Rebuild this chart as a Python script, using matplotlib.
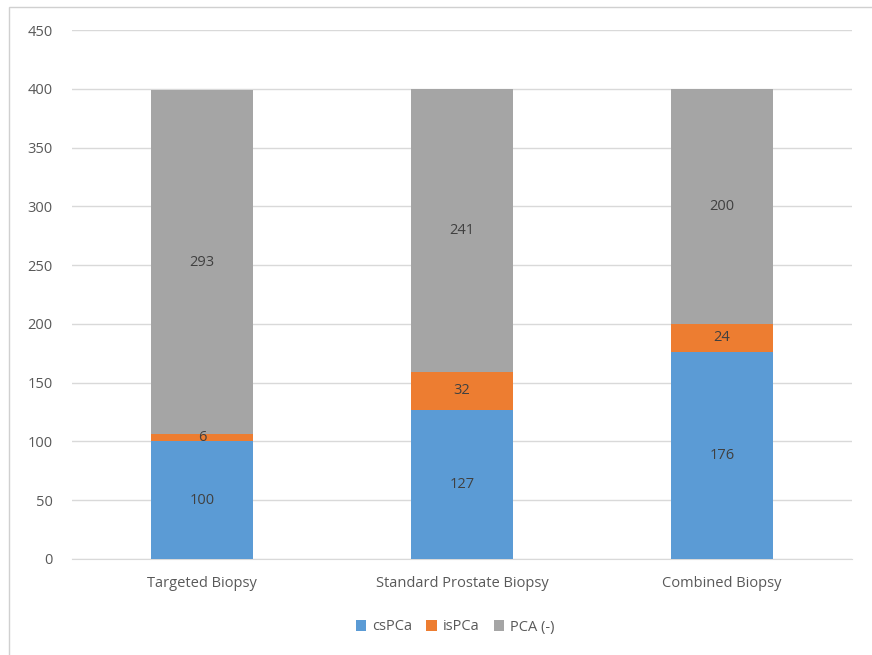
import matplotlib.pyplot as plt
from matplotlib import font_manager
from matplotlib.patches import Rectangle

categories = ["Targeted Biopsy", "Standard Prostate Biopsy", "Combined Biopsy"]
cspca = [100, 127, 176]
ispca = [6, 32, 24]
pca_neg = [293, 241, 200]
series_names = ["csPCa", "isPCa", "PCA (-)"]
colors = ["#5B9BD5", "#ED7D31", "#A5A5A5"]

installed = {f.name for f in font_manager.fontManager.ttflist}
main_font = 'Liberation Sans Narrow' if 'Liberation Sans Narrow' in installed else 'Open Sans'
fs = 12 if main_font == 'Liberation Sans Narrow' else 10.5
plt.rcParams['font.family'] = [main_font, 'DejaVu Sans']

fig = plt.figure(figsize=(8.72, 6.55), dpi=100)
ax = fig.add_axes([72 / 872, 1 - 559 / 655, (852 - 72) / 872, (559 - 30) / 655])

x = list(range(len(categories)))
width = 0.39
bottom = [0] * len(categories)
for vals, name, c in zip([cspca, ispca, pca_neg], series_names, colors):
    ax.bar(x, vals, width, bottom=bottom, color=c, label=name, zorder=3)
    for xi, v, b in zip(x, vals, bottom):
        ax.text(xi, b + v / 2, str(v), ha='center', va='center', fontsize=fs,
                color='#404040', zorder=4)
    bottom = [b + v for b, v in zip(bottom, vals)]

ax.set_xlim(-0.5, 2.5)
ax.set_ylim(0, 450)
ax.set_yticks(range(0, 451, 50))
ax.set_xticks(x)
ax.set_xticklabels(categories)
ax.grid(axis='y', color='#D9D9D9', linewidth=1, zorder=0)
for s in ['top', 'right', 'left']:
    ax.spines[s].set_visible(False)
ax.spines['bottom'].set_color('#D9D9D9')
ax.tick_params(axis='both', length=0, labelsize=fs, colors='#595959')
ax.tick_params(axis='y', pad=14)
ax.tick_params(axis='x', pad=12)

ax.legend(loc='center', bbox_to_anchor=(455 / 872, 1 - 627 / 655), bbox_transform=fig.transFigure,
          ncol=3, frameon=False, fontsize=fs, handlelength=0.7, handleheight=0.7,
          handletextpad=0.4, columnspacing=1.0, labelcolor='#595959')

fig.patches.append(Rectangle((9 / 872, -0.05), 1.0, 1 - 7 / 655 + 0.05, transform=fig.transFigure,
                             fill=False, edgecolor='#D0D0D0', linewidth=1))

fig.savefig("out.png", dpi=100)
